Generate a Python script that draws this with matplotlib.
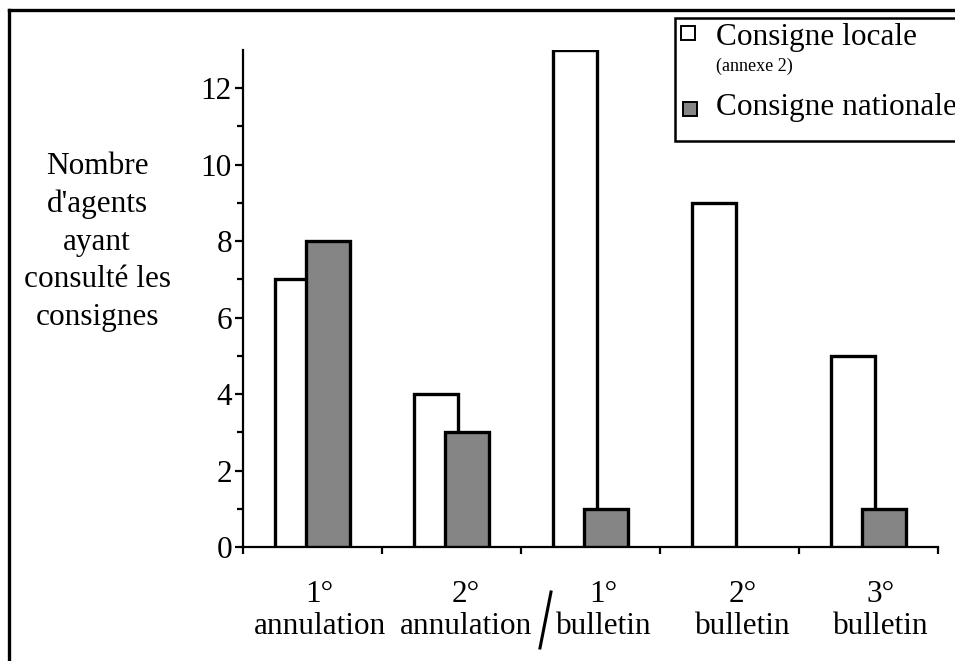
import matplotlib
matplotlib.use("Agg")
import matplotlib.pyplot as plt
from matplotlib.patches import Rectangle
from matplotlib.lines import Line2D
from matplotlib.transforms import ScaledTranslation
import numpy as np

plt.rcParams['font.family'] = ['Liberation Serif', 'DejaVu Serif']

categories = ["1°\nannulation", "2°\nannulation", "1°\nbulletin", "2°\nbulletin", "3°\nbulletin"]
series_names = ["Consigne locale", "Consigne nationale"]
legend_sub = "(annexe 2)"
locale = [7, 4, 13, 9, 5]
nationale = [8, 3, 1, 0, 1]
y_label = "Nombre\nd'agents\nayant\nconsulté les\nconsignes"

W, H = 955, 661
fig = plt.figure(figsize=(W / 100, H / 100), dpi=100)
ax = fig.add_axes([243 / W, 1 - 547 / H, (938 - 243) / W, (547 - 50) / H])

x = np.arange(len(categories))
bw = 0.32
off = 0.11
ax.bar(x - off, locale, bw, color='white', edgecolor='black', linewidth=2.4, zorder=3)
nat = np.array(nationale, dtype=float)
mask = nat > 0
ax.bar(x[mask] + off, nat[mask], bw, color='#858585', edgecolor='black', linewidth=2.4, zorder=4)

ax.set_xlim(-0.5, len(categories) - 0.5)
ax.set_ylim(0, 13)
for s in ['top', 'right']:
    ax.spines[s].set_visible(False)
for s in ['left', 'bottom']:
    ax.spines[s].set_linewidth(1.6)
ax.spines['left'].set_bounds(0, 13)

# y ticks
ax.set_yticks(np.arange(0, 13, 2))
ax.set_yticks(np.arange(1, 13, 2), minor=True)
ax.tick_params(axis='y', which='major', direction='out', length=6, width=1.6, labelsize=22.5, pad=2)
ax.tick_params(axis='y', which='minor', direction='out', length=4, width=1.6)

# x ticks: boundaries as major (no labels), categories as minor labels
ax.set_xticks(np.arange(-0.5, len(categories), 1.0))
ax.set_xticklabels([])
ax.set_xticks(x, minor=True)
ax.set_xticklabels(categories, minor=True, fontsize=22.5, linespacing=1.12)
ax.tick_params(axis='x', which='major', direction='out', length=5, width=1.6)
ax.tick_params(axis='x', which='minor', length=0, pad=24)

# small horizontal shifts of category labels (pixels), as in the reference layout
label_dx = [7, 14, 13, 13, 12]
for lab, dx in zip(ax.get_xticklabels(minor=True), label_dx):
    lab.set_transform(lab.get_transform() + ScaledTranslation(dx / 100, 0, fig.dpi_scale_trans))

# y label as free text
fig.text(97 / W, 1 - 242 / H, y_label, ha='center', va='center', fontsize=22.5, linespacing=1.38)

# slash between annulation and bulletin
fig.add_artist(Line2D([540 / W, 551 / W], [1 - 648 / H, 1 - 592 / H], color='black', linewidth=2.2))

# outer frame (top and left)
fig.add_artist(Line2D([9 / W, 9 / W], [0, 1 - 10 / H], color='black', linewidth=2.4))
fig.add_artist(Line2D([9 / W, 1.0], [1 - 10 / H, 1 - 10 / H], color='black', linewidth=2.4))

# legend box
fig.add_artist(Rectangle((675 / W, 1 - 141 / H), 0.5, (141 - 18) / H, transform=fig.transFigure,
                         facecolor='white', edgecolor='black', linewidth=1.8))
sq = 14
fig.add_artist(Rectangle((681 / W, 1 - 40 / H), sq / W, sq / H, transform=fig.transFigure,
                         facecolor='white', edgecolor='black', linewidth=1.4))
fig.text(716 / W, 1 - 38 / H, series_names[0], ha='left', va='center', fontsize=22.5)
fig.text(716 / W, 1 - 66 / H, legend_sub, ha='left', va='center', fontsize=13)
fig.add_artist(Rectangle((683 / W, 1 - 116 / H), sq / W, sq / H, transform=fig.transFigure,
                         facecolor='#858585', edgecolor='black', linewidth=1.4))
fig.text(716 / W, 1 - 107 / H, series_names[1], ha='left', va='center', fontsize=22.5)

fig.savefig("out.png", dpi=100)
